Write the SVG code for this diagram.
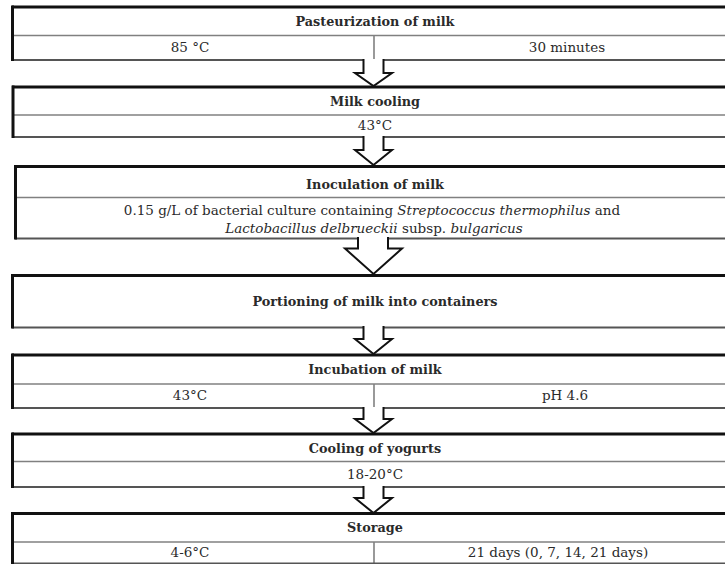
<svg xmlns="http://www.w3.org/2000/svg" width="725" height="564" viewBox="0 0 725 564">
<defs>
<style>
.top{stroke:#111;stroke-width:3;fill:none}
.left{stroke:#111;stroke-width:3;fill:none}
.div{stroke:#808080;stroke-width:1.6;fill:none}
.bot{stroke:#555;stroke-width:2;fill:none}
.t{font-family:"DejaVu Serif","Liberation Serif",serif;font-size:13.5px;fill:#2a2a2a;text-anchor:middle}
.b{font-weight:bold;font-size:12.8px}
.af{fill:#fff;stroke:none}
.as{fill:none;stroke:#111;stroke-width:2;stroke-linejoin:miter}
</style>
</defs>
<rect width="725" height="564" fill="#fff"/>

<g id="n1">
<line class="top" x1="12" y1="7" x2="725" y2="7"/>
<line class="div" x1="12" y1="35.5" x2="725" y2="35.5"/>
<line class="div" x1="374" y1="35.5" x2="374" y2="60"/>
<line class="bot" x1="12" y1="60" x2="725" y2="60"/>
<line class="left" x1="12.5" y1="5.5" x2="12.5" y2="61"/>
<text class="t b" x="375" y="26">Pasteurization of milk</text>
<text class="t" x="190" y="52">85 °C</text>
<text class="t" x="567" y="52">30 minutes</text>
</g>

<g id="n2">
<line class="top" x1="12" y1="87" x2="725" y2="87"/>
<line class="div" x1="12" y1="115" x2="725" y2="115"/>
<line class="bot" x1="12" y1="137" x2="725" y2="137"/>
<line class="left" x1="13" y1="85.5" x2="13" y2="138"/>
<text class="t b" x="375" y="106">Milk cooling</text>
<text class="t" x="375" y="130">43°C</text>
</g>

<g id="n3">
<line class="top" x1="15" y1="166.5" x2="725" y2="166.5"/>
<line class="div" x1="15" y1="197.5" x2="725" y2="197.5"/>
<line class="bot" x1="15" y1="238.5" x2="725" y2="238.5"/>
<line class="left" x1="15.5" y1="165" x2="15.5" y2="239.5"/>
<text class="t b" x="375" y="189">Inoculation of milk</text>
<text class="t" x="372" y="215">0.15 g/L of bacterial culture containing <tspan font-style="italic">Streptococcus thermophilus</tspan> and</text>
<text class="t" x="374" y="233"><tspan font-style="italic">Lactobacillus delbrueckii</tspan> subsp. <tspan font-style="italic">bulgaricus</tspan></text>
</g>

<g id="n4">
<line class="top" x1="12" y1="275.5" x2="725" y2="275.5"/>
<line class="bot" x1="12" y1="327.5" x2="725" y2="327.5"/>
<line class="left" x1="12.5" y1="274" x2="12.5" y2="328.5"/>
<text class="t b" x="375" y="306">Portioning of milk into containers</text>
</g>

<g id="n5">
<line class="top" x1="12" y1="355" x2="725" y2="355"/>
<line class="div" x1="12" y1="384" x2="725" y2="384"/>
<line class="div" x1="374" y1="384" x2="374" y2="408"/>
<line class="bot" x1="12" y1="408" x2="725" y2="408"/>
<line class="left" x1="12.5" y1="353.5" x2="12.5" y2="409"/>
<text class="t b" x="375" y="374">Incubation of milk</text>
<text class="t" x="190" y="400">43°C</text>
<text class="t" x="565" y="400">pH 4.6</text>
</g>

<g id="n6">
<line class="top" x1="12" y1="434" x2="725" y2="434"/>
<line class="div" x1="12" y1="461.5" x2="725" y2="461.5"/>
<line class="bot" x1="12" y1="487" x2="725" y2="487"/>
<line class="left" x1="12.5" y1="432.5" x2="12.5" y2="488"/>
<text class="t b" x="375" y="453">Cooling of yogurts</text>
<text class="t" x="375" y="479">18-20°C</text>
</g>

<g id="n7">
<line class="top" x1="12" y1="513.5" x2="725" y2="513.5"/>
<line class="div" x1="12" y1="542" x2="725" y2="542"/>
<line class="div" x1="374" y1="542" x2="374" y2="564"/>
<line class="bot" x1="12" y1="563.5" x2="725" y2="563.5"/>
<line class="left" x1="12.5" y1="512" x2="12.5" y2="564"/>
<text class="t b" x="375" y="532">Storage</text>
<text class="t" x="190" y="557">4-6°C</text>
<text class="t" x="558" y="557" font-size="13px">21 days (0, 7, 14, 21 days)</text>
</g>

<g id="connectors">
<polygon class="af" points="363.5,59 383.5,59 383.5,73 392,73 373.5,86 355,73 363.5,73"/>
<polyline class="as" points="363.5,59 363.5,73 355,73 373.5,86 392,73 383.5,73 383.5,59"/>

<polygon class="af" points="363.5,136 383.5,136 383.5,150 392,150 373.5,165 355,150 363.5,150"/>
<polyline class="as" points="363.5,136 363.5,150 355,150 373.5,165 392,150 383.5,150 383.5,136"/>

<polygon class="af" points="358,237 388,237 388,248.5 402,248.5 373.5,274 345,248.5 358,248.5"/>
<polyline class="as" points="358,237 358,248.5 345,248.5 373.5,274 402,248.5 388,248.5 388,237"/>

<polygon class="af" points="363.5,326 383.5,326 383.5,339 392,339 373.5,354 355,339 363.5,339"/>
<polyline class="as" points="363.5,326 363.5,339 355,339 373.5,354 392,339 383.5,339 383.5,326"/>

<polygon class="af" points="363.5,407 383.5,407 383.5,419 392,419 373.5,433 355,419 363.5,419"/>
<polyline class="as" points="363.5,407 363.5,419 355,419 373.5,433 392,419 383.5,419 383.5,407"/>

<polygon class="af" points="363.5,486 383.5,486 383.5,498 392,498 373.5,513 355,498 363.5,498"/>
<polyline class="as" points="363.5,486 363.5,498 355,498 373.5,513 392,498 383.5,498 383.5,486"/>
</g>
</svg>
